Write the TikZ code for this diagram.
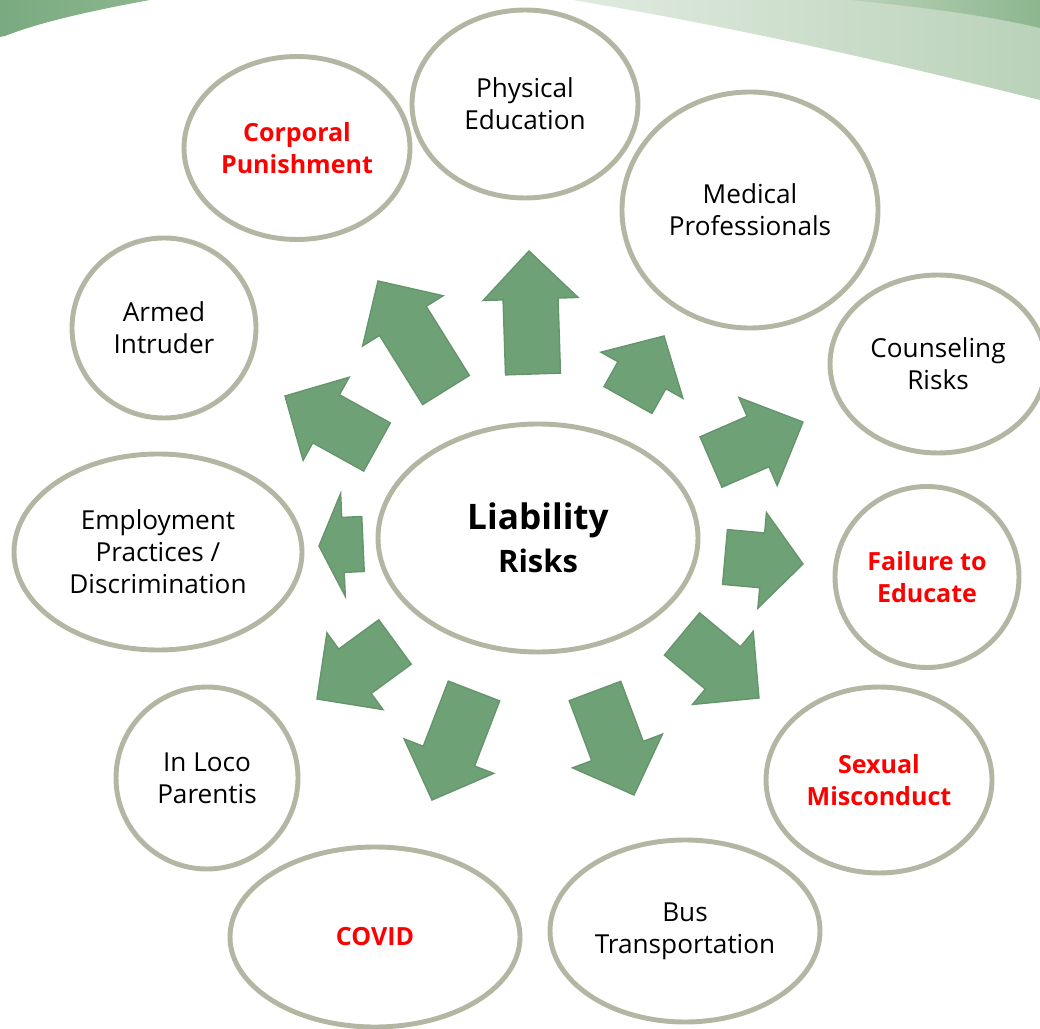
\documentclass[tikz,border=0pt]{standalone}
\usepackage{fontspec}
\setmainfont{Open Sans}
\usetikzlibrary{shapes.geometric}

\definecolor{ringgray}{RGB}{179,182,162}
\definecolor{arrowfill}{RGB}{111,161,118}
\definecolor{arrowline}{RGB}{102,148,108}
\definecolor{riskred}{RGB}{255,0,0}
\definecolor{wavedark}{RGB}{122,170,128}
\definecolor{wavemid}{RGB}{140,182,142}
\definecolor{wavelight}{RGB}{186,210,185}

\tikzset{
  risk/.style={ellipse, draw=ringgray, line width=3.5pt, fill=white, inner sep=0pt,
    align=center, font=\fontsize{18.6}{22.7}\selectfont},
  oval/.style 2 args={minimum width=#1*0.025cm, minimum height=#2*0.025cm},
  hot/.style={text=riskred, font=\fontsize{17.8}{22.7}\selectfont\bfseries},
  arrowbox/.style={fill=arrowfill, draw=arrowline, line width=1pt, line join=miter}
}

% block arrow from base centre (#1,#2) to tip (#3,#4); head length #5, head width #6
\newcommand\riskarrow[6]{%
  \pgfmathsetmacro\rdx{#3-#1}%
  \pgfmathsetmacro\rdy{#2-#4}%
  \pgfmathsetmacro\rang{atan2(\rdy,\rdx)}%
  \pgfmathsetmacro\rlen{veclen(\rdx,\rdy)}%
  \pgfmathsetmacro\rsl{\rlen-#5}%
  \pgfmathsetmacro\rhw{#6/2}%
  \begin{scope}[shift={(#1,#2)}, rotate=\rang]
    \draw[arrowbox] (0,-27.5) -- (\rsl,-27.5) -- (\rsl,-\rhw) -- (\rlen,0)
      -- (\rsl,\rhw) -- (\rsl,27.5) -- (0,27.5) -- cycle;
  \end{scope}}

\begin{document}
\begin{tikzpicture}[x=0.025cm, y=-0.025cm]
\clip (0,0) rectangle (1040,1029);
\fill[white] (0,0) rectangle (1040,1029);

% green swooshes along the top edge
\shade[left color=wavedark, right color=wavemid]
  (0,0) -- (150,0) .. controls (95,10) and (40,22) .. (5,36) -- (0,37) -- cycle;
\shade[left color=wavelight!45!white, right color=wavelight]
  (573,0) .. controls (750,30) and (900,65) .. (1040,100) -- (1040,0) -- cycle;
\shade[left color=wavelight, right color=wavemid]
  (850,0) .. controls (930,8) and (990,16) .. (1040,28) -- (1040,0) -- cycle;

% arrows radiating from the centre
\riskarrow{533}{374}{529}{251}{48}{95}
\riskarrow{446}{390}{378}{281}{47}{95}
\riskarrow{377}{447}{285}{396}{47}{95}
\riskarrow{363}{544}{319}{546}{24}{103}
\riskarrow{395}{642}{317}{699}{47}{95}
\riskarrow{474}{691}{432}{800}{47}{96}
\riskarrow{595}{691}{634}{795}{47}{96}
\riskarrow{682}{634}{759}{698}{47}{95}
\riskarrow{725}{557}{803}{564}{41}{96}
\riskarrow{711}{462}{803}{422}{49}{96}
\riskarrow{628}{400}{664}{336}{45}{94}

% topic ovals
\node[risk, oval={226}{188}] (pe) at (525,104) {Physical\\Education};
\node[risk, oval={226}{183}, hot] (cp) at (297,148) {Corporal\\Punishment};
\node[risk, oval={256}{236}] (med) at (750,210) {Medical\\Professionals};
\node[risk, oval={184}{180}] (arm) at (164,328) {Armed\\Intruder};
\node[risk, oval={216}{178}] (cns) at (938,364) {Counseling\\Risks};
\node[risk, oval={288}{196}] (emp) at (158,552) {Employment\\Practices /\\Discrimination};
\node[risk, oval={184}{181}, hot] (fte) at (927,577) {Failure to\\Educate};
\node[risk, oval={182}{182}] (ilp) at (207,778) {In Loco\\Parentis};
\node[risk, oval={226}{186}, hot] (sex) at (879,780) {Sexual\\Misconduct};
\node[risk, oval={290}{180}, hot] (cov) at (375,937) {COVID};
\node[risk, oval={270}{182}] (bus) at (685,931) {Bus\\Transportation};

% central oval
\node[risk, oval={320}{228}, font=\fontsize{25}{31}\selectfont\bfseries] (core) at (538,538)
  {Liability\\{\fontsize{22}{31}\selectfont Risks}};
\end{tikzpicture}
\end{document}
